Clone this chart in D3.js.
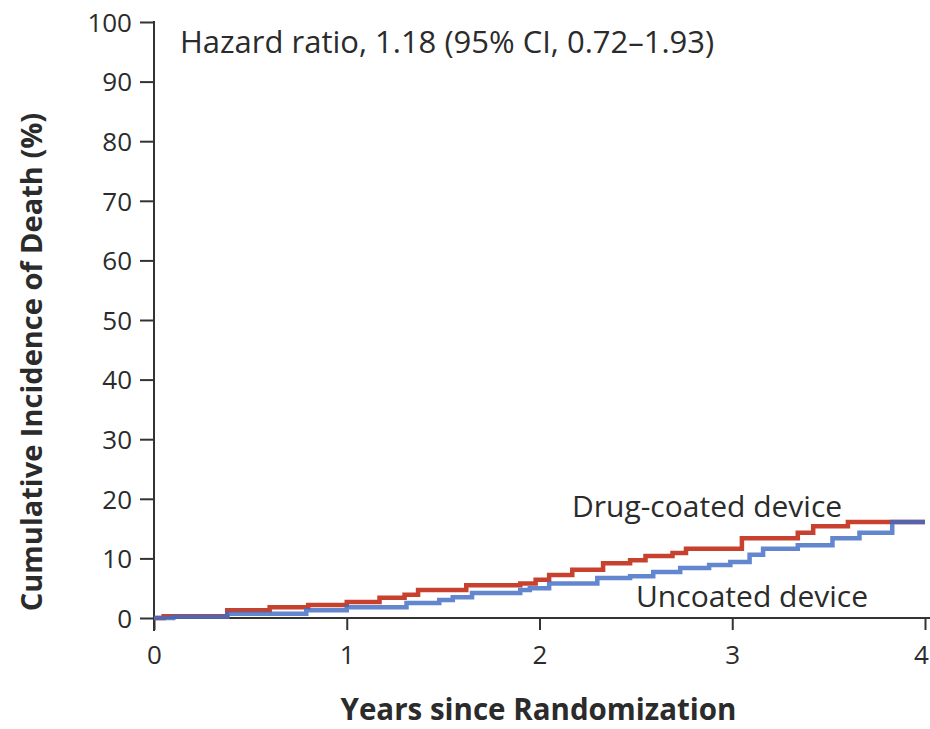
<!DOCTYPE html>
<html>
<head>
<meta charset="utf-8">
<script src="https://cdn.jsdelivr.net/npm/d3@7"></script>
<style>
  html, body { margin: 0; padding: 0; background: #fff; }
  svg { display: block; }
  text { font-family: "Open Sans", "Noto Sans", sans-serif; fill: #2b2b2b; }
</style>
</head>
<body>
<svg id="chart" width="930" height="729"></svg>
<script>
// Cumulative incidence of death (%) by years since randomization
const drugYears  = [0, 0.05, 0.38, 0.6, 0.8, 1.0, 1.17, 1.3, 1.37, 1.62, 1.9, 1.98, 2.05, 2.17, 2.33, 2.47, 2.55, 2.69, 2.76, 3.05, 3.34, 3.42, 3.6, 4.0];
const drugValues = [0, 0.3, 1.3, 1.8, 2.2, 2.7, 3.4, 3.9, 4.7, 5.5, 5.8, 6.4, 7.2, 8.1, 9.2, 9.7, 10.4, 10.9, 11.6, 13.4, 14.3, 15.4, 16.1, 16.1];

const uncoatedYears  = [0, 0.1, 0.38, 0.79, 1.0, 1.31, 1.48, 1.55, 1.65, 1.9, 1.95, 2.05, 2.3, 2.47, 2.59, 2.73, 2.88, 2.99, 3.09, 3.16, 3.34, 3.52, 3.66, 3.83, 4.0];
const uncoatedValues = [0, 0.2, 0.7, 1.3, 1.8, 2.5, 3.0, 3.5, 4.2, 4.7, 5.0, 5.8, 6.7, 7.0, 7.7, 8.4, 8.9, 9.4, 10.6, 11.6, 12.2, 13.4, 14.3, 16.1, 16.1];

const xTicks = [0, 1, 2, 3, 4];
const yTicks = [0, 10, 20, 30, 40, 50, 60, 70, 80, 90, 100];

const seriesNames = ["Drug-coated device", "Uncoated device"];
const hazardText = "Hazard ratio, 1.18 (95% CI, 0.72\u20131.93)";

const svg = d3.select("#chart");
const margin = { left: 154, right: 5, top: 22, bottom: 111 };
const W = 930, H = 729;

const x = d3.scaleLinear().domain([0, 4]).range([margin.left, W - margin.right]);
const y = d3.scaleLinear().domain([0, 100]).range([H - margin.bottom, margin.top]);

const axisColor = "#333";
const tickFont = "26px";
const labelFont = "30px";

// Y axis (ticks to the left)
const yAxis = svg.append("g")
  .attr("transform", `translate(${x(0)},0)`)
  .call(d3.axisLeft(y).tickValues(yTicks).tickSize(14).tickPadding(8).tickSizeOuter(0));
yAxis.select(".domain").remove();
yAxis.append("line")
  .attr("x1", 0).attr("x2", 0)
  .attr("y1", y(100) - 1).attr("y2", y(0) + 13)
  .attr("stroke", axisColor).attr("stroke-width", 2);
yAxis.selectAll(".tick line").attr("stroke", axisColor).attr("stroke-width", 2);
yAxis.selectAll(".tick text")
  .style("font-size", tickFont).attr("fill", "#2b2b2b").attr("dy", "0.36em");

// X axis (ticks downward)
const xAxis = svg.append("g")
  .attr("transform", `translate(0,${y(0)})`)
  .call(d3.axisBottom(x).tickValues(xTicks).tickFormat(d3.format("d"))
    .tickSize(12).tickPadding(16).tickSizeOuter(0));
xAxis.select(".domain").attr("stroke", axisColor).attr("stroke-width", 2)
  .attr("d", `M${x(0)},0H${x(4) + 5}`);
xAxis.selectAll(".tick line").attr("stroke", axisColor).attr("stroke-width", 2);
xAxis.selectAll(".tick text").style("font-size", tickFont).attr("fill", "#2b2b2b")
  .attr("dx", d => d === 4 ? -4 : 0);

// Step curves
const line = d3.line()
  .x(d => x(d[0]))
  .y(d => y(d[1]))
  .curve(d3.curveStepAfter);

const drug = d3.zip(drugYears, drugValues);
const uncoated = d3.zip(uncoatedYears, uncoatedValues);

svg.append("path")
  .datum(drug)
  .attr("d", line)
  .attr("fill", "none")
  .attr("stroke", "#c8412f")
  .attr("stroke-width", 4.5)
  .attr("stroke-linejoin", "miter");

svg.append("path")
  .datum(uncoated)
  .attr("d", line)
  .attr("fill", "none")
  .attr("stroke", "#3f6cc4")
  .attr("stroke-opacity", 0.82)
  .attr("stroke-width", 4.5)
  .attr("stroke-linejoin", "miter");

// Series labels
svg.append("text").attr("x", 572).attr("y", 517)
  .style("font-size", labelFont).text(seriesNames[0]);
svg.append("text").attr("x", 636).attr("y", 607)
  .style("font-size", labelFont).text(seriesNames[1]);

// Hazard ratio annotation
svg.append("text").attr("x", 180).attr("y", 53)
  .style("font-size", "31px").text(hazardText);

// Axis titles
svg.append("text")
  .attr("x", (x(0) + x(4)) / 2 - 1).attr("y", 720)
  .attr("text-anchor", "middle")
  .style("font-size", "29.5px").style("font-weight", "bold")
  .text("Years since Randomization");

svg.append("text")
  .attr("transform", `translate(42,${(y(0) + y(100)) / 2 + 42}) rotate(-90)`)
  .attr("text-anchor", "middle")
  .style("font-size", "29px").style("font-weight", "bold")
  .text("Cumulative Incidence of Death (%)");
</script>
</body>
</html>
